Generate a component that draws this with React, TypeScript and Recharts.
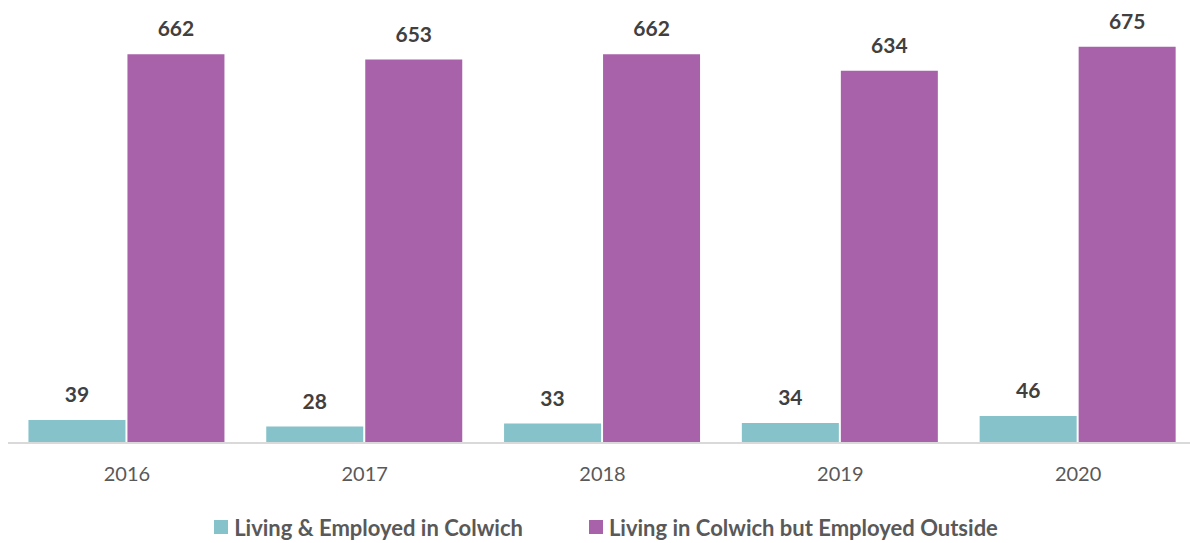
import React from "react";
import { BarChart, Bar, XAxis, YAxis, LabelList } from "recharts";

const years = ["2016", "2017", "2018", "2019", "2020"];
const livingEmployed = [39, 28, 33, 34, 46];
const livingOutside = [662, 653, 662, 634, 675];

const TEAL = "#86C2C9";
const PURPLE = "#A862AA";

const data = years.map((year, i) => ({
  year,
  inside: livingEmployed[i],
  outside: livingOutside[i],
}));

const FONT = "Lato, 'Open Sans', sans-serif";

const legendItems = [
  { label: "Living & Employed in Colwich", color: TEAL },
  { label: "Living in Colwich but Employed Outside", color: PURPLE },
];

function ChartLegend() {
  return (
    <div
      style={{
        position: "absolute", left: 0, top: 513, width: 1212, height: 28,
        display: "flex", justifyContent: "center", alignItems: "center", gap: 66, fontFamily: FONT,
      }}
    >
      {legendItems.map((it) => (
        <div key={it.label} style={{ display: "flex", alignItems: "center" }}>
          <span style={{ width: 14, height: 14, background: it.color, display: "inline-block", marginRight: 6 }} />
          <span style={{ fontSize: 22, fontWeight: 700, color: "#595959" }}>{it.label}</span>
        </div>
      ))}
    </div>
  );
}

export default function App() {
  return (
    <div style={{ position: "absolute", left: 0, top: 0, width: 1190, height: 543, overflow: "hidden", background: "#fff" }}>
      <BarChart
        width={1197}
        height={543}
        data={data}
        margin={{ top: 32, right: 0, bottom: 44, left: 8 }}
        barCategoryGap="8.6%"
        barGap={2}
      >
        <XAxis
          dataKey="year"
          axisLine={{ stroke: "#d9d9d9", strokeWidth: 2 }}
          tickLine={false}
          tick={{ fill: "#595959", fontSize: 20, fontFamily: FONT }}
          tickMargin={18}
          height={56}
        />
        <YAxis hide domain={[0, 700]} />
        <Bar dataKey="inside" fill={TEAL} isAnimationActive={false}>
          <LabelList dataKey="inside" position="top" offset={18} fill="#404040" fontSize={21} fontWeight={700} fontFamily={FONT} />
        </Bar>
        <Bar dataKey="outside" fill={PURPLE} isAnimationActive={false}>
          <LabelList dataKey="outside" position="top" offset={18} fill="#404040" fontSize={21} fontWeight={700} fontFamily={FONT} />
        </Bar>
      </BarChart>
      <ChartLegend />
    </div>
  );
}
